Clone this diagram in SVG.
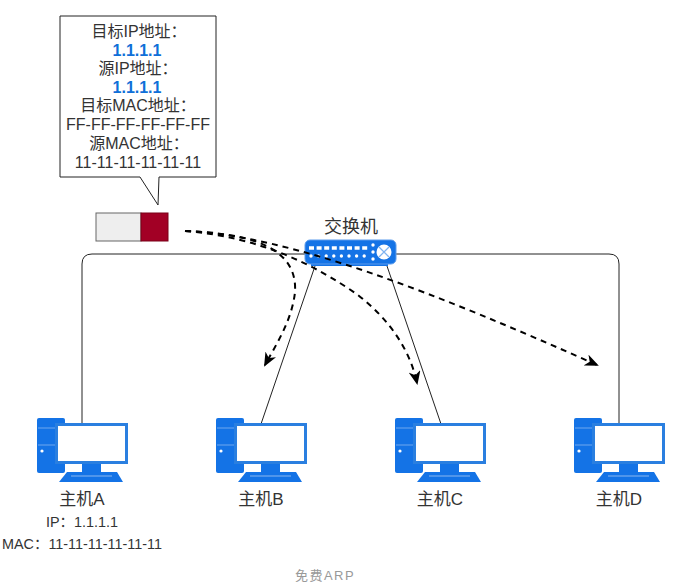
<svg xmlns="http://www.w3.org/2000/svg" width="675" height="586" viewBox="0 0 675 586">
<style>
text{font-family:"Liberation Sans","Noto Sans CJK SC",sans-serif;fill:#333;text-anchor:middle}
.t{font-size:16px}
.b{font-size:16px;font-weight:bold;fill:#0f6fd8}
.l{font-size:17px}
.s{font-size:14.4px}
.wire{fill:none;stroke:#222;stroke-width:1}
.dash{fill:none;stroke:#000;stroke-width:2;stroke-dasharray:6 5;marker-end:url(#ah)}
</style>
<defs>
<marker id="ah" markerUnits="userSpaceOnUse" viewBox="0 0 14 12" refX="12" refY="6" markerWidth="14" markerHeight="12" orient="auto"><path d="M0 0L14 6L0 12L4 6Z" fill="#000"/></marker>
<g id="pc">
<rect x="37" y="418" width="28" height="55" rx="2" fill="#1473e6"/>
<path d="M38 428H64M38 445H64" stroke="#6ea8ee" stroke-width="1"/>
<circle cx="42" cy="451" r="1.6" fill="#fff"/>
<rect x="56.500" y="424.500" width="70" height="38" fill="#fff" stroke="#2a7fe0" stroke-width="3"/>
<rect x="82" y="464" width="19" height="8" fill="#1473e6"/>
<path d="M67 472H117L123 482H59Z" fill="#1473e6"/>
<path d="M71 476H112" stroke="#8ab8f0" stroke-width="1"/>
</g>
</defs>
<g id="connectors">
<path class="wire" d="M82 424V264Q82 254 92 254H609Q619 254 619 264V424"/>
<path class="wire" d="M315 266L261 424M387 266L441 424"/>
</g>
<g id="hostA"><use href="#pc"/><text class="l" x="82" y="505">主机A</text><text class="s" x="82" y="527">IP：1.1.1.1</text><text class="s" x="82" y="549">MAC：11-11-11-11-11-11</text></g>
<g id="hostB"><use href="#pc" x="179"/><text class="l" x="261" y="505">主机B</text></g>
<g id="hostC"><use href="#pc" x="358"/><text class="l" x="440" y="505">主机C</text></g>
<g id="hostD"><use href="#pc" x="537"/><text class="l" x="619" y="505">主机D</text></g>
<g id="switch">
<text class="l" x="351" y="233" style="font-size:18px">交换机</text>
<rect x="311" y="258" width="77" height="8" fill="#1473e6"/>
<rect x="305" y="240" width="91" height="24" rx="5" fill="#1473e6" stroke="#5c9cec" stroke-width="1"/>
<path d="M309 248H369" stroke="#fff" stroke-width="3.400" stroke-dasharray="5 2.600"/>
<path d="M311 256H369" stroke="#fff" stroke-width="3.400" stroke-linecap="round" stroke-dasharray="0 7.600"/>
<circle cx="373" cy="245" r="1.7" fill="#fff"/><circle cx="373" cy="252" r="1.7" fill="#fff"/><circle cx="373" cy="259" r="1.7" fill="#fff"/>
<circle cx="384" cy="252" r="7.500" fill="#fff"/>
<path d="M379 247L389 257M389 247L379 257" stroke="#7fb3f0" stroke-width="1.300"/>
</g>
<g id="packet">
<rect x="96" y="213" width="45" height="28" fill="#eeeeee" stroke="#666" stroke-width="1"/>
<rect x="141" y="213" width="27" height="28" fill="#a20025" stroke="#7a0019" stroke-width="1"/>
</g>
<g id="callout">
<path d="M60 16H216V177H159L158 205L140 177H60Z" fill="#fff" stroke="#222" stroke-width="1"/>
<text class="t" x="139" y="37">目标IP地址：</text>
<text class="b" x="137" y="56">1.1.1.1</text>
<text class="t" x="138" y="74">源IP地址：</text>
<text class="b" x="137" y="93">1.1.1.1</text>
<text class="t" x="138" y="111">目标MAC地址：</text>
<text class="t" x="138" y="130">FF-FF-FF-FF-FF-FF</text>
<text class="t" x="139" y="149">源MAC地址：</text>
<text class="t" x="138" y="168">11-11-11-11-11-11</text>
</g>
<g id="arrows">
<path class="dash" d="M185 231C245 233 298 245 295 292C292 320 277 343 265 365"/>
<path class="dash" d="M185 231C260 237 315 265 358 295C390 320 410 350 417 383"/>
<path class="dash" d="M185 231C290 235 440 295 597 365"/>
</g>
<text x="325" y="580" style="font-size:13px;fill:#999;letter-spacing:1.500px">免费ARP</text>
</svg>
